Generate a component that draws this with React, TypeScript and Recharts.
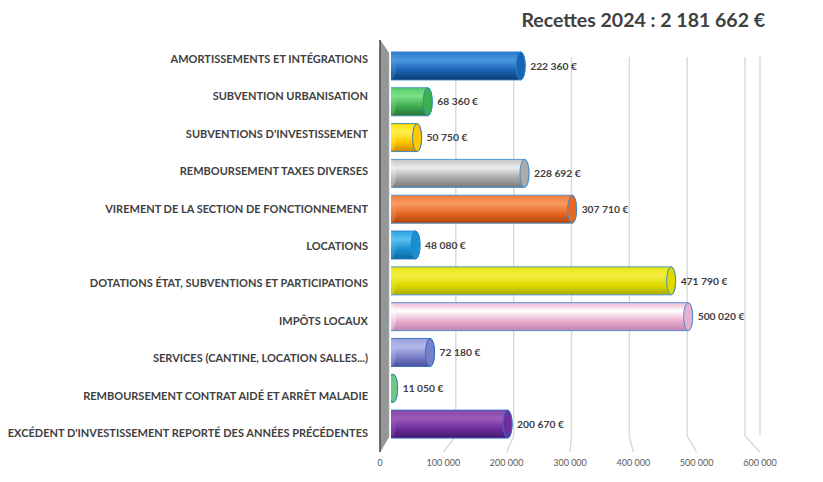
import { BarChart, Bar, XAxis, YAxis, LabelList, ReferenceArea, CartesianGrid, Cell } from 'recharts'

const categories = [
  'AMORTISSEMENTS ET INTÉGRATIONS',
  'SUBVENTION URBANISATION',
  "SUBVENTIONS D'INVESTISSEMENT",
  'REMBOURSEMENT TAXES DIVERSES',
  'VIREMENT DE LA SECTION DE FONCTIONNEMENT',
  'LOCATIONS',
  'DOTATIONS ÉTAT, SUBVENTIONS ET PARTICIPATIONS',
  'IMPÔTS LOCAUX',
  'SERVICES (CANTINE, LOCATION SALLES...)',
  'REMBOURSEMENT CONTRAT AIDÉ ET ARRÊT MALADIE',
  "EXCÉDENT D'INVESTISSEMENT REPORTÉ DES ANNÉES PRÉCÉDENTES",
]

const amounts = [222360, 68360, 50750, 228692, 307710, 48080, 471790, 500020, 72180, 11050, 200670]

const xTicks = [0, 100000, 200000, 300000, 400000, 500000, 600000]

const title = 'Recettes 2024 : 2 181 662 €'

// top, highlight, middle, bottom, edge
const barColors = [
  ['#2c7bcc', '#4a98e0', '#1a64b4', '#0b3c74', '#2f80cc'],
  ['#58cc68', '#7ce08a', '#3fae50', '#26743a', '#2f8fb0'],
  ['#ffe000', '#fff050', '#ffc800', '#cc8600', '#3a7fb8'],
  ['#c4c4c4', '#ececec', '#ababab', '#7a7a7a', '#3f8ed0'],
  ['#f27c3a', '#f89c62', '#e66824', '#b0460e', '#3f8ed0'],
  ['#2aa4e4', '#5cc0f0', '#1890d0', '#0e689c', '#2f80cc'],
  ['#e8e40a', '#f2ef44', '#deda00', '#aeaa00', '#3f8ed0'],
  ['#f0b6d6', '#ffffff', '#eab0d0', '#c282b2', '#4a8fd4'],
  ['#989edc', '#b4b9ea', '#7a80c8', '#4a509e', '#2f6fc0'],
  ['#9ee6ae', '#c8f4d0', '#6cc686', '#358c4c', '#2f8fb0'],
  ['#8846a8', '#9c5cba', '#6e2e9e', '#46186c', '#2f70c8'],
]

const data = categories.map((name, i) => ({ name, amount: amounts[i] }))

const PLOT_LEFT = 380
const PLOT_WIDTH = 380
const X_MAX = 600000

const fmt = (n: number) => String(n).replace(/\B(?=(\d{3})+(?!\d))/g, ' ')

const FONT = 'Lato, "Open Sans", "Liberation Sans", sans-serif'

// cylinder bar: the left cap sticks out a little before zero, like the 3D original
const Cylinder = (props: any) => {
  const { x, y, width, height, index } = props
  if (width == null || width < 0) return null
  const c = barColors[index]
  const ry = height / 2
  const rx = 4.5
  const left = x - rx
  const len = width + rx
  return (
    <g>
      <rect
        x={left}
        y={y}
        width={len}
        height={height}
        rx={rx}
        ry={ry}
        fill={`url(#cyl-${index})`}
        stroke={c[4]}
        strokeWidth={0.9}
      />
      <ellipse cx={left + rx + 0.5} cy={y + ry} rx={rx} ry={ry - 0.5} fill={c[1]} opacity={0.35} />
      <ellipse cx={left + len - rx} cy={y + ry} rx={rx} ry={ry} fill={c[2]} stroke={c[4]} strokeWidth={1} />
    </g>
  )
}

// left side wall of the 3D plot
const Wall = (props: any) => {
  const { x, y, width, height } = props
  return (
    <g>
      <polygon
        points={`${x},${y} ${x + width},${y + 13} ${x + width},${y + height - 15} ${x},${y + height}`}
        fill="#949797"
        stroke="#8a8c8c"
        strokeWidth={0.5}
      />
      <line x1={x} y1={y} x2={x} y2={y + height} stroke="#4a4a4a" strokeWidth={1.5} />
    </g>
  )
}

// back-wall gridline that bends down to the front axis label
const GridLine = (props: any) => {
  const { x1, y1, y2, index } = props
  if (!index) return null
  const frontX = PLOT_LEFT + (xTicks[index] / X_MAX) * PLOT_WIDTH
  return (
    <polyline
      points={`${x1},${y1 + 17} ${x1},${y2 - 16} ${frontX},${y2}`}
      fill="none"
      stroke="#d3dbdb"
      strokeWidth={1.4}
    />
  )
}

const FrontTick = (props: any) => {
  const { x, y, payload } = props
  return (
    <text x={x} y={y + 12} textAnchor="middle" fontSize={9} fill="#595959" fontFamily={FONT}>
      {fmt(payload.value)}
    </text>
  )
}

const CategoryTick = (props: any) => {
  const { x, y, payload } = props
  return (
    <text
      x={x}
      y={y}
      dy={4}
      textAnchor="end"
      fontSize={11}
      fontWeight={700}
      fill="#404040"
      fontFamily={FONT}
    >
      {payload.value}
    </text>
  )
}

export default function App() {
  return (
    <div style={{ position: 'absolute', left: 0, top: 0, width: 823, height: 482, background: '#fff' }}>
      <div
        style={{
          position: 'absolute',
          top: 8,
          right: 58,
          fontFamily: FONT,
          fontWeight: 700,
          fontSize: 19.5,
          color: '#404040',
        }}
      >
        {title}
      </div>
      <BarChart
        width={823}
        height={482}
        data={data}
        layout="vertical"
        margin={{ top: 40, right: 63, left: 0, bottom: 0 }}
        barCategoryGap="11%"
      >
        <defs>
          {barColors.map((c, i) => (
            <linearGradient key={i} id={`cyl-${i}`} x1="0" y1="0" x2="0" y2="1">
              <stop offset="0%" stopColor={c[0]} />
              <stop offset="30%" stopColor={c[1]} />
              <stop offset="65%" stopColor={c[2]} />
              <stop offset="100%" stopColor={c[3]} />
            </linearGradient>
          ))}
        </defs>
        <XAxis
          xAxisId="front"
          type="number"
          domain={[0, X_MAX]}
          allowDataOverflow
          ticks={xTicks}
          tick={<FrontTick />}
          tickLine={false}
          axisLine={false}
          tickSize={0}
          interval={0}
          height={30}
        />
        <XAxis
          xAxisId="back"
          type="number"
          domain={[0, X_MAX]}
          allowDataOverflow
          ticks={xTicks}
          interval={0}
          padding={{ left: 18, right: 15 }}
          height={0}
          hide
        />
        <XAxis
          xAxisId="bars"
          type="number"
          domain={[0, X_MAX]}
          allowDataOverflow
          padding={{ left: 11, right: 7 }}
          height={0}
          hide
        />
        <YAxis
          yAxisId="cats"
          type="category"
          dataKey="name"
          width={380}
          tickLine={false}
          axisLine={false}
          tickSize={0}
          tickMargin={12}
          interval={0}
          tick={<CategoryTick />}
        />
        <YAxis yAxisId="bars" type="category" dataKey="name" padding={{ top: 8, bottom: 10 }} width={0} hide />
        <CartesianGrid xAxisId="back" yAxisId="cats" horizontal={false} vertical={<GridLine />} />
        <ReferenceArea xAxisId="front" yAxisId="cats" x1={0} x2={14000} shape={<Wall />} ifOverflow="visible" />
        <Bar
          xAxisId="bars"
          yAxisId="bars"
          dataKey="amount"
          shape={<Cylinder />}
          isAnimationActive={false}
        >
          {data.map((_, i) => (
            <Cell key={i} fill={`url(#cyl-${i})`} />
          ))}
          <LabelList
            dataKey="amount"
            position="right"
            offset={5}
            formatter={(v: any) => `${fmt(v)} €`}
            style={{ fontSize: 10.3, fontWeight: 700, fill: '#404040', fontFamily: FONT }}
          />
        </Bar>
      </BarChart>
    </div>
  )
}
